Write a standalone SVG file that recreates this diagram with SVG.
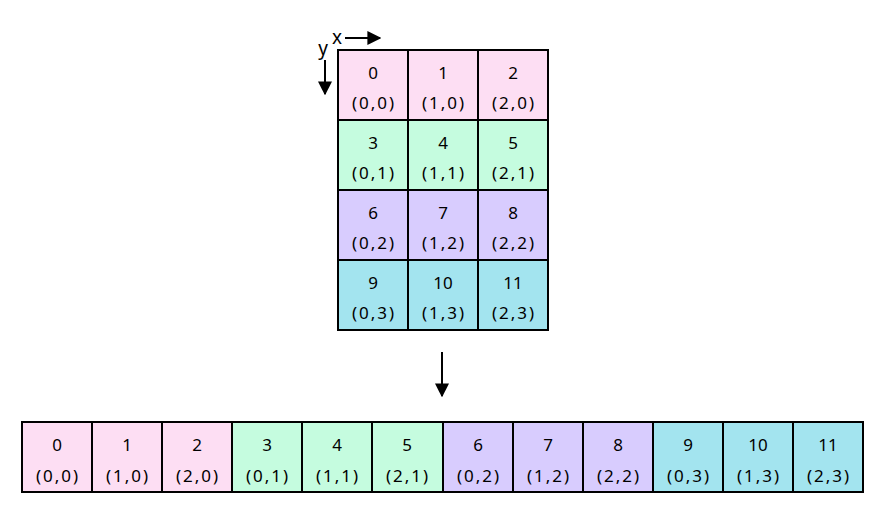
<svg xmlns="http://www.w3.org/2000/svg" width="881" height="513" viewBox="0 0 881 513">
<style>
.c{stroke:#000;stroke-width:2}
.p{fill:#fddef3}.g{fill:#c5fcdf}.v{fill:#d8ccfe}.b{fill:#a3e4ef}
text{font-family:"Noto Sans","Liberation Sans",sans-serif;font-size:17px;text-anchor:middle;fill:#000}
.k{letter-spacing:2px}
.a{font-size:19px}
.ln{stroke:#000;stroke-width:2;fill:none}
</style>
<defs>
<marker id="ah2" viewBox="0 0 10 10" refX="9" refY="5" markerWidth="7" markerHeight="7" orient="auto"><path d="M0,0L10,5L0,10z" fill="#000"/></marker>
</defs>
<g id="axes">
<text class="a" x="337" y="44">x</text>
<text class="a" x="323" y="55">y</text>
</g>
<g id="connectors">
<path class="ln" d="M345,38H380" marker-end="url(#ah2)"/>
<path class="ln" d="M325,60V94" marker-end="url(#ah2)"/>
<path class="ln" d="M442,352V396" marker-end="url(#ah2)"/>
</g>
<g id="grid">
<g id="g0"><rect class="c p" x="338" y="50" width="70" height="70"/><text x="373" y="79">0</text><text class="k" x="374" y="109">(0,0)</text></g>
<g id="g1"><rect class="c p" x="408" y="50" width="70" height="70"/><text x="443" y="79">1</text><text class="k" x="444" y="109">(1,0)</text></g>
<g id="g2"><rect class="c p" x="478" y="50" width="70" height="70"/><text x="513" y="79">2</text><text class="k" x="514" y="109">(2,0)</text></g>
<g id="g3"><rect class="c g" x="338" y="120" width="70" height="70"/><text x="373" y="149">3</text><text class="k" x="374" y="179">(0,1)</text></g>
<g id="g4"><rect class="c g" x="408" y="120" width="70" height="70"/><text x="443" y="149">4</text><text class="k" x="444" y="179">(1,1)</text></g>
<g id="g5"><rect class="c g" x="478" y="120" width="70" height="70"/><text x="513" y="149">5</text><text class="k" x="514" y="179">(2,1)</text></g>
<g id="g6"><rect class="c v" x="338" y="190" width="70" height="70"/><text x="373" y="219">6</text><text class="k" x="374" y="249">(0,2)</text></g>
<g id="g7"><rect class="c v" x="408" y="190" width="70" height="70"/><text x="443" y="219">7</text><text class="k" x="444" y="249">(1,2)</text></g>
<g id="g8"><rect class="c v" x="478" y="190" width="70" height="70"/><text x="513" y="219">8</text><text class="k" x="514" y="249">(2,2)</text></g>
<g id="g9"><rect class="c b" x="338" y="260" width="70" height="70"/><text x="373" y="289">9</text><text class="k" x="374" y="319">(0,3)</text></g>
<g id="g10"><rect class="c b" x="408" y="260" width="70" height="70"/><text x="443" y="289">10</text><text class="k" x="444" y="319">(1,3)</text></g>
<g id="g11"><rect class="c b" x="478" y="260" width="70" height="70"/><text x="513" y="289">11</text><text class="k" x="514" y="319">(2,3)</text></g>
</g>
<g id="row">
<g id="r0"><rect class="c p" x="22" y="422" width="70" height="70"/><text x="57" y="451">0</text><text class="k" x="58" y="482">(0,0)</text></g>
<g id="r1"><rect class="c p" x="92" y="422" width="70" height="70"/><text x="127" y="451">1</text><text class="k" x="128" y="482">(1,0)</text></g>
<g id="r2"><rect class="c p" x="162" y="422" width="70" height="70"/><text x="197" y="451">2</text><text class="k" x="198" y="482">(2,0)</text></g>
<g id="r3"><rect class="c g" x="232" y="422" width="70" height="70"/><text x="267" y="451">3</text><text class="k" x="268" y="482">(0,1)</text></g>
<g id="r4"><rect class="c g" x="302" y="422" width="70" height="70"/><text x="337" y="451">4</text><text class="k" x="338" y="482">(1,1)</text></g>
<g id="r5"><rect class="c g" x="372" y="422" width="71" height="70"/><text x="407" y="451">5</text><text class="k" x="408" y="482">(2,1)</text></g>
<g id="r6"><rect class="c v" x="443" y="422" width="70" height="70"/><text x="478" y="451">6</text><text class="k" x="479" y="482">(0,2)</text></g>
<g id="r7"><rect class="c v" x="513" y="422" width="70" height="70"/><text x="548" y="451">7</text><text class="k" x="549" y="482">(1,2)</text></g>
<g id="r8"><rect class="c v" x="583" y="422" width="70" height="70"/><text x="618" y="451">8</text><text class="k" x="619" y="482">(2,2)</text></g>
<g id="r9"><rect class="c b" x="653" y="422" width="70" height="70"/><text x="688" y="451">9</text><text class="k" x="689" y="482">(0,3)</text></g>
<g id="r10"><rect class="c b" x="723" y="422" width="70" height="70"/><text x="758" y="451">10</text><text class="k" x="759" y="482">(1,3)</text></g>
<g id="r11"><rect class="c b" x="793" y="422" width="70" height="70"/><text x="828" y="451">11</text><text class="k" x="829" y="482">(2,3)</text></g>
</g>
</svg>
